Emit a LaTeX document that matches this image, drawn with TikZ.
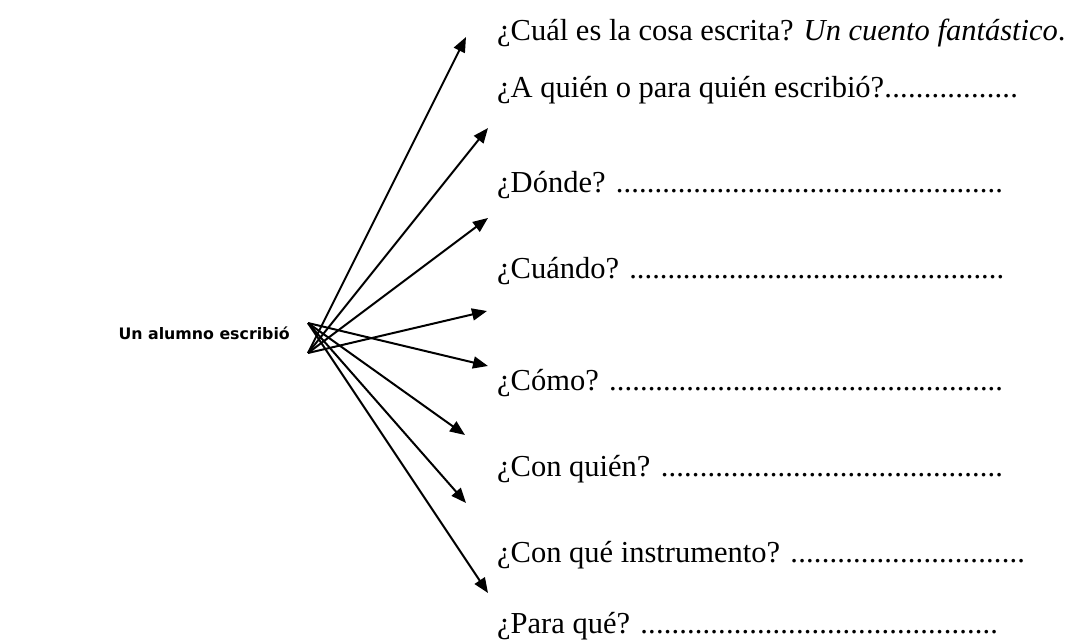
\documentclass[tikz,border=0pt]{standalone}
\usepackage{fontspec}
\setmainfont{Liberation Serif}
\newfontfamily\labelsans{DejaVu Sans}
\usetikzlibrary{arrows.meta}
\newcommand\dotline[2]{\hbox to #1pt{#2\xleaders\hbox{.}\hfill}}
\begin{document}
\begin{tikzpicture}[x=1pt,y=-1pt,
  q/.style={anchor=base west, inner sep=0pt, font=\fontsize{30.5}{36}\selectfont},
  lab/.style={anchor=base east, inner sep=0pt, font=\labelsans\bfseries\fontsize{15.8}{19}\selectfont},
  arr/.style={line width=2pt, -{Triangle[length=15pt,width=12pt]}},
]
\useasboundingbox (0,0) rectangle (1069,640);
\node[lab] (l) at (290,339) {Un alumno escribió};
\coordinate (su) at (308,323);
\coordinate (sl) at (308,353);
\node[q] (q1) at (497,40) {¿Cuál es la cosa escrita? \textit{Un cuento fantástico}.};
\node[q] (q2) at (497,97) {\dotline{521}{¿A quién o para quién escribió?}};
\node[q] (q3) at (497,192) {\dotline{506}{¿Dónde? }};
\node[q] (q4) at (497,278) {\dotline{507}{¿Cuándo? }};
\node[q] (q5) at (497,390) {\dotline{506}{¿Cómo? }};
\node[q] (q6) at (497,476) {\dotline{506}{¿Con quién? }};
\node[q] (q7) at (497,562) {\dotline{528}{¿Con qué instrumento? }};
\node[q] (q8) at (497,633) {\dotline{501}{¿Para qué? }};
\coordinate (t1) at (466,37);
\coordinate (t2) at (488,128);
\coordinate (t3) at (488,218);
\coordinate (t4) at (487,311);
\coordinate (t5) at (488,366);
\coordinate (t6) at (465,435);
\coordinate (t7) at (466,503);
\coordinate (t8) at (488,593);
\foreach \t in {t1,t2,t3,t4} \draw[arr] (sl) -- (\t);
\foreach \t in {t5,t6,t7,t8} \draw[arr] (su) -- (\t);
\end{tikzpicture}
\end{document}
